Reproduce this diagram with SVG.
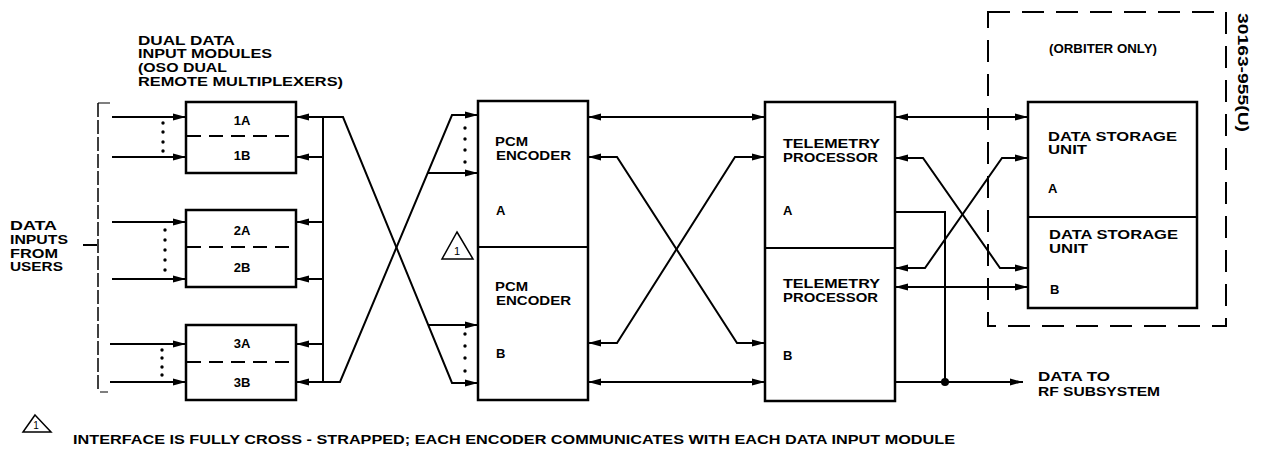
<svg xmlns="http://www.w3.org/2000/svg" width="1262" height="459" viewBox="0 0 1262 459">
<style>
text{font-family:"Liberation Sans",Arial,sans-serif;font-weight:bold;font-size:13px;fill:#000}
.sm{font-size:12px}
.box{fill:#fff;stroke:#000;stroke-width:2.5}
.div{stroke:#000;stroke-width:2}
.dash{stroke:#000;stroke-width:2;stroke-dasharray:14 8;fill:none}
.c{stroke:#000;stroke-width:2;fill:none}
.a{marker-end:url(#ah)}
.aa{marker-start:url(#ah);marker-end:url(#ah)}
.dot{fill:#000}
</style>
<defs>
<marker id="ah" viewBox="0 0 13 8" refX="13" refY="4" markerWidth="13" markerHeight="8" markerUnits="userSpaceOnUse" orient="auto-start-reverse">
<path d="M0,0.5 L13,4 L0,7.5 z" fill="#000"/>
</marker>
</defs>
<rect width="1262" height="459" fill="#fff"/>

<g id="title-dim">
<text x="138" y="45" textLength="97" lengthAdjust="spacingAndGlyphs">DUAL DATA</text>
<text x="138" y="58" textLength="134" lengthAdjust="spacingAndGlyphs">INPUT MODULES</text>
<text x="138" y="72" textLength="89" lengthAdjust="spacingAndGlyphs">(OSO DUAL</text>
<text x="138" y="86" textLength="205" lengthAdjust="spacingAndGlyphs">REMOTE MULTIPLEXERS)</text>
</g>

<g id="data-inputs">
<text x="10" y="230" textLength="47" lengthAdjust="spacingAndGlyphs">DATA</text>
<text x="10" y="244" textLength="58" lengthAdjust="spacingAndGlyphs">INPUTS</text>
<text x="10" y="258" textLength="48" lengthAdjust="spacingAndGlyphs">FROM</text>
<text x="10" y="271" textLength="53" lengthAdjust="spacingAndGlyphs">USERS</text>
<path d="M83,245 H97" class="c" stroke-width="1.5"/>
<path d="M98,103 V392" stroke="#000" stroke-width="1.5" stroke-dasharray="14 3" fill="none"/>
<path d="M98,103 H110 M100,392 H108" stroke="#000" stroke-width="1.2" fill="none"/>
</g>

<g id="dim1">
<rect class="box" x="186" y="102" width="110" height="71"/>
<path class="dash" d="M187,136 H295"/>
<text x="242" y="125" text-anchor="middle">1A</text>
<text x="242" y="160" text-anchor="middle">1B</text>
</g>
<g id="dim2">
<rect class="box" x="186" y="210" width="110" height="77"/>
<path class="dash" d="M187,247 H295"/>
<text x="242" y="235" text-anchor="middle">2A</text>
<text x="242" y="272" text-anchor="middle">2B</text>
</g>
<g id="dim3">
<rect class="box" x="186" y="325" width="110" height="75"/>
<path class="dash" d="M187,362 H295"/>
<text x="242" y="348" text-anchor="middle">3A</text>
<text x="242" y="387" text-anchor="middle">3B</text>
</g>

<g id="pcm">
<rect class="box" x="478" y="101" width="110" height="299"/>
<path class="div" d="M478,247 H588"/>
<text x="495" y="146" textLength="33" lengthAdjust="spacingAndGlyphs">PCM</text>
<text x="496" y="160" textLength="75" lengthAdjust="spacingAndGlyphs">ENCODER</text>
<text x="496" y="215">A</text>
<text x="495" y="291" textLength="33" lengthAdjust="spacingAndGlyphs">PCM</text>
<text x="496" y="305" textLength="75" lengthAdjust="spacingAndGlyphs">ENCODER</text>
<text x="496" y="358">B</text>
</g>

<g id="note-marker">
<path d="M457,232 L473,259 L442,259 z" fill="none" stroke="#000" stroke-width="1.5"/>
<text x="457" y="255" text-anchor="middle" style="font-size:11px;font-weight:normal">1</text>
</g>

<g id="tp">
<rect class="box" x="765" y="102" width="130" height="299"/>
<path class="div" d="M765,248 H895"/>
<text x="783" y="148" textLength="97" lengthAdjust="spacingAndGlyphs">TELEMETRY</text>
<text x="783" y="162" textLength="95" lengthAdjust="spacingAndGlyphs">PROCESSOR</text>
<text x="783" y="215">A</text>
<text x="783" y="288" textLength="97" lengthAdjust="spacingAndGlyphs">TELEMETRY</text>
<text x="783" y="302" textLength="95" lengthAdjust="spacingAndGlyphs">PROCESSOR</text>
<text x="783" y="360">B</text>
</g>

<g id="orbiter">
<path d="M988,12 H1226 V326 H988 Z" fill="none" stroke="#000" stroke-width="2" stroke-dasharray="22 12"/>
<text x="1049" y="53" textLength="108" lengthAdjust="spacingAndGlyphs">(ORBITER ONLY)</text>
</g>

<g id="dsu">
<rect class="box" x="1028" y="102" width="169" height="206"/>
<path class="div" d="M1028,217 H1197"/>
<text x="1048" y="141" textLength="129" lengthAdjust="spacingAndGlyphs">DATA STORAGE</text>
<text x="1048" y="154" textLength="39" lengthAdjust="spacingAndGlyphs">UNIT</text>
<text x="1048" y="193">A</text>
<text x="1049" y="239" textLength="129" lengthAdjust="spacingAndGlyphs">DATA STORAGE</text>
<text x="1049" y="253" textLength="39" lengthAdjust="spacingAndGlyphs">UNIT</text>
<text x="1050" y="294">B</text>
</g>

<g id="rf-label">
<text x="1038" y="381" textLength="72" lengthAdjust="spacingAndGlyphs">DATA TO</text>
<text x="1038" y="396" textLength="122" lengthAdjust="spacingAndGlyphs">RF SUBSYSTEM</text>
</g>

<g id="drawing-number">
<text transform="translate(1238,13) rotate(90)" x="0" y="0" textLength="119" lengthAdjust="spacingAndGlyphs" style="font-size:15px">30163-955(U)</text>
</g>

<g id="connectors">
<path class="c a" d="M112,117 H186"/>
<path class="c a" d="M112,157 H186"/>
<path class="c a" d="M112,222 H186"/>
<path class="c a" d="M112,279 H186"/>
<path class="c a" d="M110,344 H186"/>
<path class="c a" d="M110,382 H186"/>
<path class="c" d="M323,117 V382"/>
<path class="c a" d="M323,117 H296"/>
<path class="c a" d="M323,157 H296"/>
<path class="c a" d="M323,222 H296"/>
<path class="c a" d="M323,279 H296"/>
<path class="c a" d="M323,344 H296"/>
<path class="c a" d="M323,382 H296"/>
<path class="c a" d="M323,117 H343 L452,383 H478"/>
<path class="c a" d="M323,382 H340 L452,115 H478"/>
<path class="c a" d="M428,173 H478"/>
<path class="c a" d="M428,325 H478"/>
<path class="c aa" d="M588,117 H765"/>
<path class="c aa" d="M588,157 H617 L737,343 H765"/>
<path class="c aa" d="M765,157 H735 L617,343 H588"/>
<path class="c aa" d="M588,382 H765"/>
<path class="c aa" d="M895,117 H1028"/>
<path class="c aa" d="M895,158 H923 L1000,268 H1028"/>
<path class="c aa" d="M1028,158 H1002 L925,268 H895"/>
<path class="c aa" d="M895,287 H1028"/>
<path class="c" d="M895,212 H945 V382"/>
<path class="c a" d="M895,382 H1023"/>
<circle class="dot" cx="945" cy="382" r="4"/>
</g>

<g id="dotted-links" fill="#000">
<circle cx="163" cy="123" r="1.7"/><circle cx="163" cy="132" r="1.7"/><circle cx="163" cy="142" r="1.7"/><circle cx="163" cy="151" r="1.7"/>
<circle cx="165" cy="230" r="1.7"/><circle cx="165" cy="240" r="1.7"/><circle cx="165" cy="250" r="1.7"/><circle cx="165" cy="260" r="1.7"/><circle cx="165" cy="270" r="1.7"/>
<circle cx="162" cy="350" r="1.7"/><circle cx="162" cy="358" r="1.7"/><circle cx="162" cy="367" r="1.7"/><circle cx="162" cy="375" r="1.7"/>
<circle cx="465" cy="128" r="1.7"/><circle cx="465" cy="139" r="1.7"/><circle cx="465" cy="150" r="1.7"/><circle cx="465" cy="162" r="1.7"/>
<circle cx="465" cy="334" r="1.7"/><circle cx="465" cy="346" r="1.7"/><circle cx="465" cy="358" r="1.7"/><circle cx="465" cy="371" r="1.7"/>
</g>

<g id="footnote">
<path d="M35,415 L51,432 L23,432 z" fill="none" stroke="#000" stroke-width="1.5"/>
<text x="36" y="429" text-anchor="middle" style="font-size:10px;font-weight:normal">1</text>
<text x="73" y="444" textLength="882" lengthAdjust="spacingAndGlyphs">INTERFACE IS FULLY CROSS - STRAPPED; EACH ENCODER COMMUNICATES WITH EACH DATA INPUT MODULE</text>
</g>
</svg>
